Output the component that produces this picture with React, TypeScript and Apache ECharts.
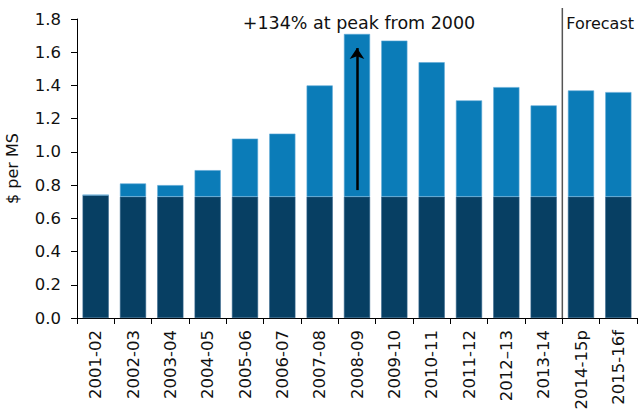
import React, { useEffect, useRef } from "react";
import * as echarts from "echarts";

// Per-year fee level ($ per MS): the 2000 baseline plus the increase since then
const categories = [
  "2001-02", "2002-03", "2003-04", "2004-05", "2005-06", "2006-07", "2007-08",
  "2008-09", "2009-10", "2010-11", "2011-12", "2012\u201313", "2013-14", "2014-15p", "2015-16f",
];
const baseLevel = [0.74, 0.73, 0.73, 0.73, 0.73, 0.73, 0.73, 0.73, 0.73, 0.73, 0.73, 0.73, 0.73, 0.73, 0.73];
const totals = [0.74, 0.81, 0.80, 0.89, 1.08, 1.11, 1.40, 1.71, 1.67, 1.54, 1.31, 1.39, 1.28, 1.37, 1.36];
const yTicks = [0, 0.2, 0.4, 0.6, 0.8, 1.0, 1.2, 1.4, 1.6, 1.8];

const peakCategory = "2008-09";
const arrowFrom = 0.77;
const arrowTo = 1.625;
const firstForecast = "2014-15p";
const peakNote = "+134% at peak from 2000";
const forecastNote = "Forecast";

const increase = totals.map((t, i) => Math.round((t - baseLevel[i]) * 100) / 100);

const FONT = "DejaVu Sans";
const DARK = "#073f63";
const LIGHT = "#0b7cb8";

export default function App() {
  const ref = useRef<HTMLDivElement>(null);

  useEffect(() => {
    document.body.style.margin = "0";
    if (!ref.current) return;
    const chart = echarts.init(ref.current, null, { renderer: "svg" });
    chart.setOption({
      animation: false,
      grid: { left: 77, right: 4, top: 19, bottom: 92, outerBoundsMode: "none", containLabel: false },
      xAxis: {
        type: "category",
        data: categories,
        axisLine: { lineStyle: { color: "#000", width: 1 } },
        axisTick: { show: true, length: 6, lineStyle: { color: "#000" } },
        axisLabel: {
          interval: 0,
          rotate: 90,
          margin: 12,
          color: "#111",
          fontFamily: FONT,
          fontSize: 16.5,
        },
      },
      yAxis: {
        type: "value",
        min: yTicks[0],
        max: yTicks[yTicks.length - 1],
        interval: 0.2,
        name: "$ per MS",
        nameLocation: "middle",
        nameGap: 57,
        nameTextStyle: { color: "#111", fontFamily: FONT, fontSize: 16 },
        splitLine: { show: false },
        axisLine: { show: true, lineStyle: { color: "#000", width: 1 } },
        axisTick: { show: true, length: 6, lineStyle: { color: "#000" } },
        axisLabel: {
          margin: 16,
          color: "#111",
          fontFamily: FONT,
          fontSize: 16.5,
          formatter: (v: number) => v.toFixed(1),
        },
      },
      series: [
        {
          type: "bar",
          stack: "fee",
          data: baseLevel,
          barWidth: "70%",
          itemStyle: { color: DARK, borderColor: "#2d6088", borderWidth: 0.6 },
        },
        {
          type: "bar",
          stack: "fee",
          data: increase,
          barWidth: "70%",
          itemStyle: { color: LIGHT, borderColor: "#5fa9d6", borderWidth: 0.6 },
          markLine: {
            silent: true,
            symbol: ["none", "arrow"],
            symbolSize: 11,
            label: { show: false },
            lineStyle: { color: "#000", width: 2.5, type: "solid" },
            emphasis: { disabled: true },
            data: [[{ coord: [peakCategory, arrowFrom] }, { coord: [peakCategory, arrowTo] }]],
          },
        },
      ],
    });

    // Annotations placed from the axes' own scales
    const finder = { xAxisIndex: 0, yAxisIndex: 0 };
    const idx = categories.indexOf(firstForecast);
    const a = chart.convertToPixel(finder, [categories[idx - 1], 0]) as number[];
    const b = chart.convertToPixel(finder, [categories[idx], 0]) as number[];
    const top = chart.convertToPixel(finder, [categories[0], yTicks[yTicks.length - 1]]) as number[];
    const peak = chart.convertToPixel(finder, [peakCategory, 0]) as number[];
    const divX = (a[0] + b[0]) / 2;

    chart.setOption({
      graphic: [
        {
          type: "line",
          shape: { x1: divX, y1: top[1] - 11, x2: divX, y2: a[1] },
          style: { stroke: "#555", lineWidth: 1.5 },
          silent: true,
        },
        {
          type: "text",
          x: divX + 4,
          y: top[1] + 4,
          style: {
            text: forecastNote,
            fill: "#111",
            font: `16px "${FONT}"`,
            textAlign: "left",
            textVerticalAlign: "middle",
          },
        },
        {
          type: "text",
          x: peak[0] + 2,
          y: top[1] + 4,
          style: {
            text: peakNote,
            fill: "#111",
            font: `17.5px "${FONT}"`,
            textAlign: "center",
            textVerticalAlign: "middle",
          },
        },
      ],
    });

    return () => chart.dispose();
  }, []);

  return <div ref={ref} style={{ width: 641, height: 410 }} />;
}
